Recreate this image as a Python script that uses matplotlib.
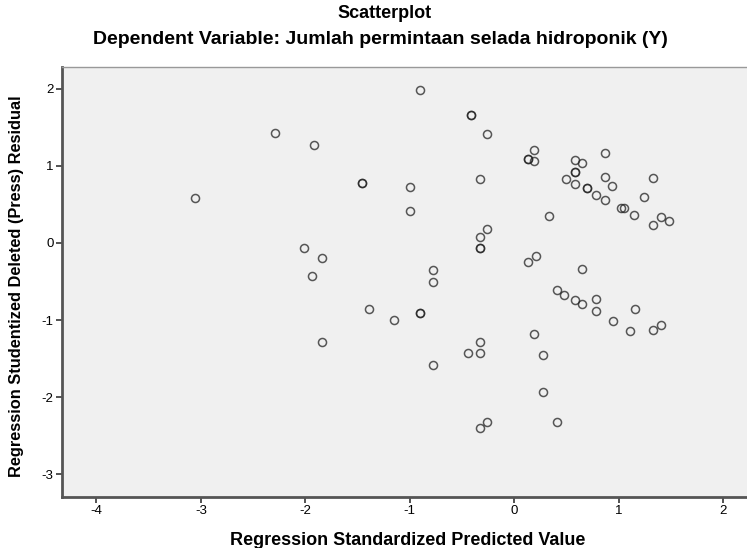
import matplotlib
matplotlib.use("Agg")
import matplotlib.pyplot as plt
from matplotlib.ticker import FuncFormatter

plt.rcParams['font.family'] = ['Liberation Sans', 'DejaVu Sans']

# standardized predicted value (x) vs studentized deleted residual (y)
pred = [-3.06, -2.29, -1.92, -0.90, -0.41, -0.41, -0.26, -1.46, -1.46, -1.00,
        -1.00, -0.33, -0.33, -0.26, -0.33, -0.33, -2.01, -1.84, -1.94, -0.78,
        -0.78, -1.39, -1.15, -0.90, -0.90, -1.84, -0.44, -0.33, -0.33, -0.78,
        -0.33, -0.26, 0.41, 0.28, 0.28, 0.19, 0.13, 0.21, 0.65, 0.41,
        0.48, 0.58, 0.65, 0.78, 0.78, 0.95, 1.16, 1.11, 1.33, 1.41,
        0.33, 0.19, 0.13, 0.13, 0.19, 0.58, 0.65, 0.87, 0.58, 0.58,
        0.50, 0.58, 0.87, 0.94, 1.33, 0.70, 0.70, 0.78, 0.87, 1.02,
        1.05, 1.24, 1.15, 1.41, 1.48, 1.33]
resid = [0.58, 1.42, 1.27, 1.98, 1.66, 1.66, 1.41, 0.78, 0.78, 0.73,
         0.42, 0.83, 0.08, 0.18, -0.07, -0.07, -0.06, -0.19, -0.43, -0.35,
         -0.50, -0.86, -1.00, -0.91, -0.91, -1.29, -1.43, -1.43, -1.28, -1.58,
         -2.40, -2.32, -2.32, -1.93, -1.45, -1.18, -0.25, -0.17, -0.34, -0.61,
         -0.68, -0.74, -0.79, -0.73, -0.88, -1.01, -0.86, -1.14, -1.13, -1.06,
         0.35, 1.21, 1.09, 1.09, 1.06, 1.08, 1.03, 1.16, 0.92, 0.92,
         0.83, 0.77, 0.86, 0.74, 0.84, 0.71, 0.71, 0.62, 0.56, 0.45,
         0.45, 0.60, 0.36, 0.33, 0.28, 0.23]

xticks = [-4, -3, -2, -1, 0, 1, 2]
yticks = [-3, -2, -1, 0, 1, 2]

fig = plt.figure(figsize=(7.47, 5.48), dpi=100)
ax = fig.add_axes([0.083, 0.0936, 0.917, 0.784])
ax.set_facecolor('#f0f0f0')

ax.plot(pred, resid, 'o', ms=5.8, mfc='none', mec='#222222', mew=1.1,
        alpha=0.75, ls='none')

ax.set_xlim(-4.33, 2.23)
ax.set_ylim(-3.29, 2.28)
ax.set_xticks(xticks)
ax.set_yticks(yticks)
hyphen = FuncFormatter(lambda v, p: '%d' % v)
ax.xaxis.set_major_formatter(hyphen)
ax.yaxis.set_major_formatter(hyphen)
ax.tick_params(direction='out', length=4, width=1.3, color='#444444',
               labelsize=9.5, pad=2)

for side in ['left', 'bottom']:
    ax.spines[side].set_color('#555555')
    ax.spines[side].set_linewidth(2)
ax.spines['top'].set_color('#999999')
ax.spines['top'].set_linewidth(1)
ax.spines['right'].set_visible(False)

ax.set_xlabel('Regression Standardized Predicted Value', fontsize=13,
              fontweight='bold', va='center')
ax.xaxis.set_label_coords(0.505, -0.101)
ax.set_ylabel('Regression Studentized Deleted (Press) Residual', fontsize=11.8,
              fontweight='bold', va='center')
ax.yaxis.set_label_coords(-0.066, 0.49)

fig.text(385 / 747, 1 - 13 / 548, 'Scatterplot', ha='center', va='center',
         fontsize=13, fontweight='bold')
fig.text(380 / 747, 1 - 40 / 548,
         'Dependent Variable: Jumlah permintaan selada hidroponik (Y)',
         ha='center', va='center', fontsize=14, fontweight='bold')

fig.savefig('out.png', dpi=100)
